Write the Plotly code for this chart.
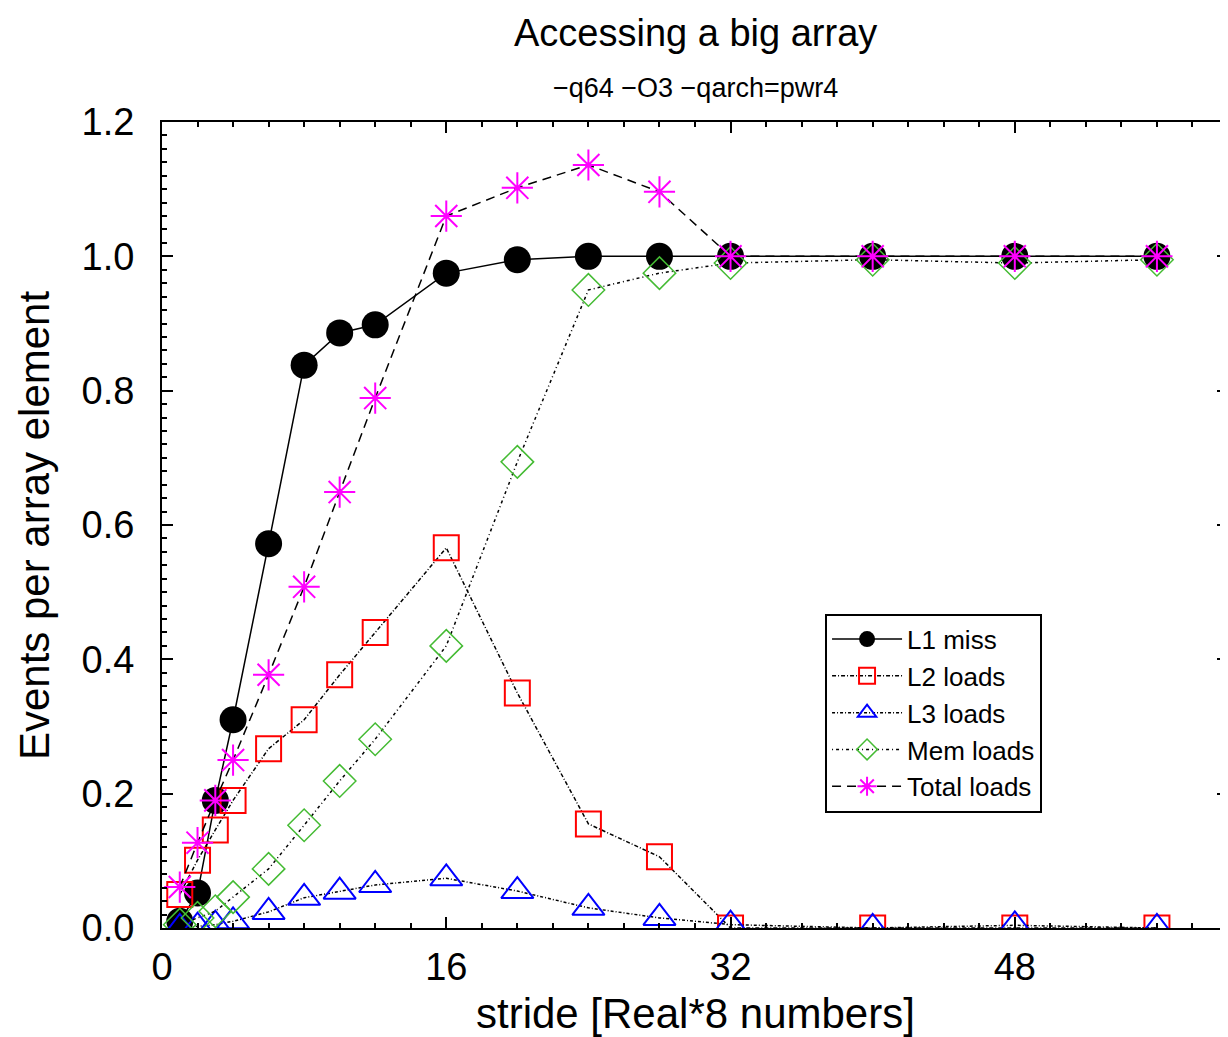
import plotly.graph_objects as go

stride = [1, 2, 3, 4, 6, 8, 10, 12, 16, 20, 24, 28, 32, 40, 48, 56]

l1_miss = [0.01, 0.052, 0.19, 0.31, 0.572, 0.838, 0.886, 0.898, 0.975, 0.995, 1.0, 1.0, 1.0, 1.0, 1.0, 1.0]
l2_loads = [0.05, 0.101, 0.146, 0.19, 0.267, 0.31, 0.377, 0.44, 0.566, 0.35, 0.155, 0.106, 0.0, 0.0, 0.0, 0.0]
l3_loads = [0.0, 0.002, 0.005, 0.01, 0.024, 0.045, 0.054, 0.064, 0.074, 0.055, 0.03, 0.015, 0.005, 0.0, 0.004, 0.0]
mem_loads = [0.005, 0.015, 0.025, 0.046, 0.088, 0.153, 0.219, 0.281, 0.42, 0.694, 0.95, 0.975, 0.99, 0.995, 0.99, 0.995]
total_loads = [0.061, 0.127, 0.19, 0.25, 0.377, 0.508, 0.649, 0.789, 1.06, 1.102, 1.136, 1.096, 1.0, 1.0, 1.0, 1.0]

x_ticks = [0, 16, 32, 48]
y_ticks = [0.0, 0.2, 0.4, 0.6, 0.8, 1.0, 1.2]

FONT = "Liberation Sans, Arial, sans-serif"

fig = go.Figure()

fig.add_trace(go.Scatter(
    x=stride, y=l1_miss, name="L1 miss", mode="lines+markers",
    line=dict(color="black", width=1.5),
    marker=dict(symbol="circle", size=27, color="black"),
))
fig.add_trace(go.Scatter(
    x=stride, y=l2_loads, name="L2 loads", mode="lines+markers",
    line=dict(color="black", width=1.5, dash="4px,2px,1px,2px"),
    marker=dict(symbol="square-open", size=25, color="red", line=dict(width=2, color="red")),
))
fig.add_trace(go.Scatter(
    x=stride, y=l3_loads, name="L3 loads", mode="lines+markers",
    line=dict(color="black", width=1.5, dash="3px,2px,1px,2px"),
    marker=dict(symbol="triangle-up-open", size=28, color="blue", line=dict(width=2, color="blue")),
))
fig.add_trace(go.Scatter(
    x=stride, y=mem_loads, name="Mem loads", mode="lines+markers",
    line=dict(color="black", width=1.5, dash="1px,3px,3px,3px"),
    marker=dict(symbol="diamond-open", size=25, color="#44bb33", line=dict(width=1.5, color="#44bb33")),
))
fig.add_trace(go.Scatter(
    x=stride, y=total_loads, name="Total loads", mode="lines+markers",
    line=dict(color="black", width=1.5, dash="9px,6px"),
    marker=dict(symbol="asterisk-open", size=26, color="magenta", line=dict(width=2, color="magenta")),
))
# helper trace so that mirrored axes (top/right) carry minor ticks as well
fig.add_trace(go.Scatter(x=[], y=[], xaxis="x2", yaxis="y2", showlegend=False, hoverinfo="skip"))

axis_common = dict(
    showline=True, linecolor="black", linewidth=2,
    ticks="inside", ticklen=11, tickwidth=2, tickcolor="black",
    showgrid=False, zeroline=False,
    tickfont=dict(family=FONT, size=38, color="black"),
)
xminor = dict(dtick=2, tick0=0, ticks="inside", ticklen=5, tickwidth=2, tickcolor="black")
yminor = dict(dtick=0.02, tick0=0, ticks="inside", ticklen=5, tickwidth=2, tickcolor="black")

fig.update_layout(
    xaxis=dict(range=[0, 60], tickvals=x_ticks, ticktext=[str(v) for v in x_ticks],
               minor=xminor, ticklabelstandoff=4, **axis_common),
    yaxis=dict(range=[0, 1.2], tickvals=y_ticks, ticktext=[f"{v:.1f}" for v in y_ticks],
               minor=yminor, ticklabelstandoff=18, **axis_common),
    xaxis2=dict(range=[0, 60], overlaying="x", side="top", tickvals=x_ticks,
                showticklabels=False, minor=xminor, **axis_common),
    yaxis2=dict(range=[0, 1.2], overlaying="y", side="right", tickvals=y_ticks,
                showticklabels=False, minor=yminor, **axis_common),
)

fig.update_layout(
    width=1220, height=1029,
    margin=dict(l=154, r=0, t=114, b=109),
    plot_bgcolor="white", paper_bgcolor="white",
    showlegend=True,
    legend=dict(
        x=0.622, y=0.39, xanchor="left", yanchor="top",
        bgcolor="white", bordercolor="black", borderwidth=2,
        font=dict(family=FONT, size=26, color="black"),
        itemsizing="trace", itemwidth=70, tracegroupgap=0,
    ),
    annotations=[
        dict(text="Accessing a big array", x=0.5, y=1.1104, xref="paper", yref="paper",
             xanchor="center", yanchor="middle", showarrow=False,
             font=dict(family=FONT, size=38, color="black")),
        dict(text="\u2212q64 \u2212O3 \u2212qarch=pwr4", x=0.5, y=1.042, xref="paper", yref="paper",
             xanchor="center", yanchor="middle", showarrow=False,
             font=dict(family=FONT, size=27, color="black")),
        dict(text="stride [Real*8 numbers]", x=0.5, y=-0.106, xref="paper", yref="paper",
             xanchor="center", yanchor="middle", showarrow=False,
             font=dict(family=FONT, size=42, color="black")),
        dict(text="Events per array element", x=-0.12, y=0.5, xref="paper", yref="paper",
             xanchor="center", yanchor="middle", showarrow=False, textangle=-90,
             font=dict(family=FONT, size=42, color="black")),
    ],
)

fig.write_html("out.html")
